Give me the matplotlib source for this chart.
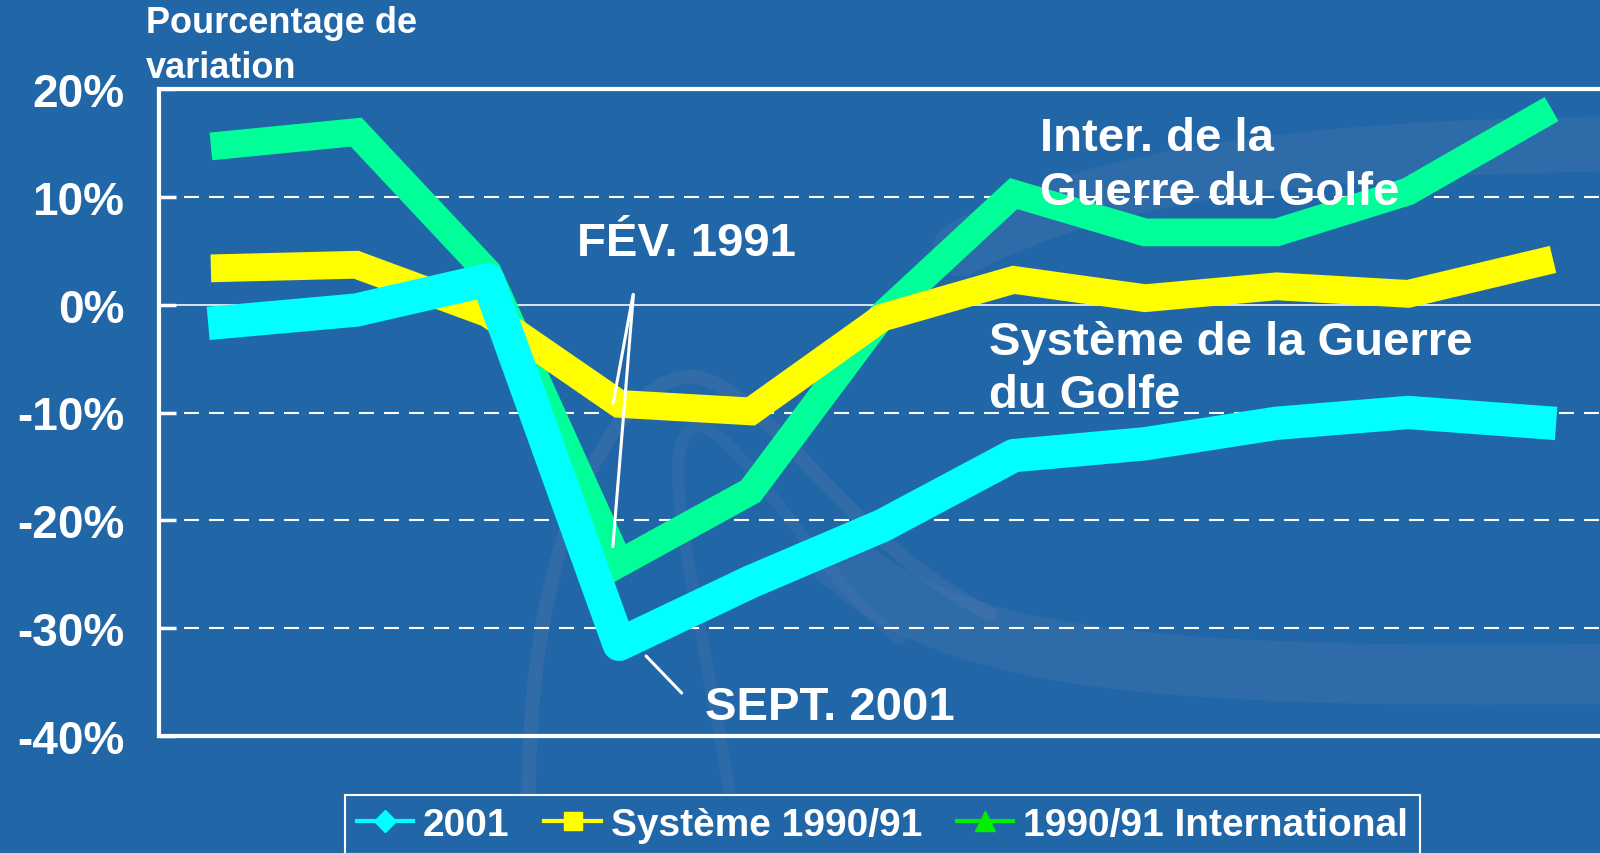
import matplotlib
matplotlib.use("Agg")
import matplotlib.pyplot as plt
from matplotlib.path import Path
from matplotlib.patches import PathPatch
from matplotlib.lines import Line2D

# data (percent change)
periods = list(range(11))
sept_2001 = [-1.6, -0.5, 2.3, -31.5, -25.7, -20.5, -14.0, -12.9, -11.0, -10.0, -10.9]
systeme_1990 = [3.4, 3.7, -0.8, -9.2, -9.9, -1.2, 2.3, 0.6, 1.7, 1.0, 3.9]
intl_1990 = [14.8, 16.0, 3.0, -24.0, -17.3, -1.0, 10.3, 6.7, 6.7, 10.5, 17.5]
y_ticks = [20, 10, 0, -10, -20, -30, -40]
legend_labels = ["2001", "Système 1990/91", "1990/91 International"]

BG = "#2167a8"
FONT = ["Liberation Sans", "DejaVu Sans"]
plt.rcParams["font.family"] = FONT
plt.rcParams["font.weight"] = "bold"

fig = plt.figure(figsize=(16, 8.54), dpi=100, facecolor=BG)

# faint watermark behind the chart
bg = fig.add_axes([0, 0, 1, 1], zorder=0)
bg.set_xlim(0, 1600)
bg.set_ylim(854, 0)
bg.axis("off")
wm = "#7c86b0"
shapes = [
    ([(530, 860), (515, 520), (630, 370), (695, 378), (770, 390), (840, 540), (990, 615)], 14, 0.18),
    ([(740, 860), (705, 620), (655, 460), (690, 430), (725, 405), (800, 560), (900, 640)], 12, 0.12),
    ([(840, 560), (950, 660), (1150, 680), (1600, 675)], 60, 0.14),
    ([(960, 250), (1100, 175), (1300, 150), (1600, 145)], 55, 0.14),
]
for pts, lw, a in shapes:
    codes = [Path.MOVETO] + [Path.CURVE4] * (len(pts) - 1)
    bg.add_patch(PathPatch(Path(pts, codes), facecolor="none", edgecolor=wm,
                           lw=lw * 0.72, alpha=a, capstyle="round"))

ax = fig.add_axes([159 / 1600, 1 - 737 / 854, 1 - 159 / 1600, (737 - 90) / 854], zorder=1)
ax.patch.set_visible(False)
ax.set_xlim(-0.5, 10.46)
ax.set_ylim(-40, 20)

for y in [10, -10, -20, -30]:
    ax.axhline(y, color="white", lw=1.5, dashes=(7.2, 4.8), zorder=1)
ax.axhline(0, color="#e8eef5", lw=1.3, zorder=1)

# markers sit under the thick lines, as in the original
ax.plot(periods, intl_1990, ls="none", marker="^", ms=12, color="#00ee00", zorder=2)
ax.plot(periods, intl_1990, color="#00ff99", lw=20, solid_joinstyle="miter", zorder=3)
ax.plot(periods, systeme_1990, color="#ffff00", lw=20, solid_joinstyle="miter",
        marker="s", ms=12, zorder=4)
ax.plot(periods, sept_2001, color="#00ffff", lw=24, solid_joinstyle="round",
        marker="D", ms=12, zorder=5)

ax.set_yticks(y_ticks)
ax.set_yticklabels([f"{t}%" for t in y_ticks])
ax.set_xticks([])
ax.tick_params(axis="y", direction="in", length=12, width=2.5, color="white",
               labelcolor="white", labelsize=33, pad=25)
for lab in ax.get_yticklabels():
    lab.set_fontweight("bold")
for side in ["left", "top", "bottom"]:
    ax.spines[side].set_color("white")
    ax.spines[side].set_linewidth(3)
ax.spines["right"].set_visible(False)

# annotations (va="baseline" pins the last line's baseline)
txt = dict(color="white", fontsize=34, fontweight="bold", va="baseline", zorder=6)
ax.text(6.2, 9.3, "Inter. de la\nGuerre du Golfe", linespacing=1.3, **txt)
ax.text(5.81, -9.5, "Système de la Guerre\ndu Golfe", linespacing=1.26, **txt)
ax.text(2.68, 4.6, "FÉV. 1991", **txt)
ax.text(3.65, -38.4, "SEPT. 2001", **txt)

apex = (3.11, 1.2)
for yv in [systeme_1990[3] - 0.2, intl_1990[3] + 1.3]:
    ax.annotate("", xy=(2.95, yv), xytext=apex,
                arrowprops=dict(arrowstyle="-", color="white", lw=2.2), zorder=6)
ax.annotate("", xy=(3.49, -36.2), xytext=(3.19, sept_2001[3] - 0.9),
            arrowprops=dict(arrowstyle="-", color="white", lw=2.2), zorder=6)

fig.text(146 / 1600, 1 - 78 / 854, "Pourcentage de\nvariation", color="white",
         fontsize=26, fontweight="bold", va="baseline", ha="left", linespacing=1.38)

handles = [
    Line2D([], [], color="#00ffff", lw=3, marker="D", ms=11),
    Line2D([], [], color="#ffff00", lw=3, marker="s", ms=13),
    Line2D([], [], color="#00ee00", lw=3, marker="^", ms=15),
]
leg = fig.legend(handles, legend_labels, ncol=3, loc="upper left",
                 bbox_to_anchor=(345 / 1600, 1 - 796 / 854), frameon=True,
                 fancybox=False, facecolor=BG, edgecolor="white", framealpha=1,
                 fontsize=28, handlelength=1.45, handletextpad=0.25,
                 columnspacing=0.9, borderpad=0.3, borderaxespad=0)
leg.get_frame().set_linewidth(1.5)
for t in leg.get_texts():
    t.set_color("white")
    t.set_fontweight("bold")

fig.savefig("out.png", dpi=100, facecolor=BG)
